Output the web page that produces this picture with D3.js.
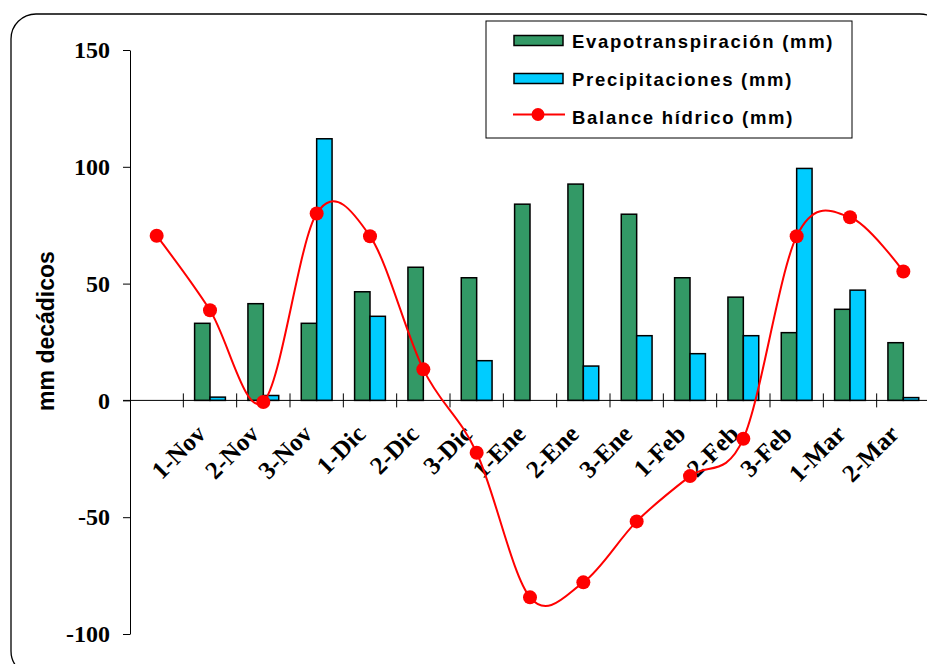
<!DOCTYPE html>
<html>
<head>
<meta charset="utf-8">
<script src="https://cdn.jsdelivr.net/npm/d3@7"></script>
<style>
  body { margin: 0; background: #fff; }
  svg { display: block; }
</style>
</head>
<body>
<svg id="chart" width="927" height="664"></svg>
<script>
// datos decádicos
const categorias = ["", "1-Nov", "2-Nov", "3-Nov", "1-Dic", "2-Dic", "3-Dic", "1-Ene", "2-Ene", "3-Ene", "1-Feb", "2-Feb", "3-Feb", "1-Mar", "2-Mar"];
const evapotranspiracion = [null, 33, 41.4, 33, 46.5, 57, 52.5, 84, 92.6, 79.7, 52.5, 44.2, 29, 39, 24.7];
const precipitaciones = [null, 1.4, 2.1, 112, 36, null, 17, null, 14.7, 27.7, 20, 27.7, 99.3, 47.2, 1.2];
const balance = [70.5, 38.6, -0.7, 80, 70.3, 13.3, -22.4, -84.3, -77.9, -51.8, -32.4, -16.4, 70.3, 78.4, 55.2];
const yTicks = [-100, -50, 0, 50, 100, 150];

const svg = d3.select("#chart");

// marco redondeado
svg.append("rect")
  .attr("x", 11).attr("y", 14)
  .attr("width", 934).attr("height", 662)
  .attr("rx", 25)
  .attr("fill", "none")
  .attr("stroke", "#000")
  .attr("stroke-width", 1.3);

const x = d3.scaleBand().domain(categorias).range([130, 930]);
const y = d3.scaleLinear().domain([-100, 150]).range([634, 50]);
const serie = d3.scaleBand().domain(["evap", "prec"])
  .range([x.bandwidth() / 2 - 15.4, x.bandwidth() / 2 + 15.4]);

// eje Y
const yAxis = svg.append("g")
  .attr("transform", "translate(130,0)")
  .call(d3.axisLeft(y).tickValues(yTicks).tickFormat(d => String(d))
    .tickSize(7).tickPadding(13).tickSizeOuter(0));
yAxis.select(".domain").attr("stroke", "#000");
yAxis.selectAll("text")
  .attr("font-family", "'Liberation Serif', 'Times New Roman', serif")
  .attr("font-weight", "bold")
  .attr("font-size", "24px")
  .attr("fill", "#000");

// título eje Y
svg.append("text")
  .attr("transform", "translate(54,331) rotate(-90)")
  .attr("text-anchor", "middle")
  .attr("font-family", "'Liberation Sans', Arial, sans-serif")
  .attr("font-weight", "bold")
  .attr("font-size", "23px")
  .text("mm decádicos");

// barras
const grupos = svg.append("g");
grupos.selectAll("rect.evap")
  .data(categorias.map((c, i) => ({ c, v: evapotranspiracion[i] })).filter(d => d.v != null))
  .enter().append("rect")
  .attr("class", "evap")
  .attr("x", d => x(d.c) + serie("evap"))
  .attr("width", serie.bandwidth())
  .attr("y", d => y(d.v))
  .attr("height", d => y(0) - y(d.v))
  .attr("fill", "#339966")
  .attr("stroke", "#000")
  .attr("stroke-width", 1.5);

grupos.selectAll("rect.prec")
  .data(categorias.map((c, i) => ({ c, v: precipitaciones[i] })).filter(d => d.v != null))
  .enter().append("rect")
  .attr("class", "prec")
  .attr("x", d => x(d.c) + serie("prec"))
  .attr("width", serie.bandwidth())
  .attr("y", d => y(d.v))
  .attr("height", d => y(0) - y(d.v))
  .attr("fill", "#00CCFF")
  .attr("stroke", "#000")
  .attr("stroke-width", 1.5);

// eje X (línea cero y marcas)
svg.append("line")
  .attr("x1", 123).attr("x2", 930)
  .attr("y1", y(0)).attr("y2", y(0))
  .attr("stroke", "#000");

svg.selectAll("line.marca")
  .data(categorias.slice(1))
  .enter().append("line")
  .attr("class", "marca")
  .attr("x1", d => x(d)).attr("x2", d => x(d))
  .attr("y1", y(0) - 7).attr("y2", y(0) + 7)
  .attr("stroke", "#000");

svg.selectAll("text.cat")
  .data(categorias)
  .enter().append("text")
  .attr("class", "cat")
  .attr("transform", d => `translate(${x(d) + x.bandwidth() / 2 - 3},${y(0) + 35}) rotate(-45)`)
  .attr("text-anchor", "end")
  .attr("font-family", "'Liberation Serif', 'Times New Roman', serif")
  .attr("font-weight", "bold")
  .attr("font-size", "25px")
  .text(d => d);

// balance hídrico (línea suavizada)
const puntos = categorias.map((c, i) => [x(c) + x.bandwidth() / 2, y(balance[i])]);
svg.append("path")
  .attr("d", d3.line().curve(d3.curveCatmullRom.alpha(0))(puntos))
  .attr("fill", "none")
  .attr("stroke", "#FF0000")
  .attr("stroke-width", 2);

svg.selectAll("circle.bal")
  .data(puntos)
  .enter().append("circle")
  .attr("class", "bal")
  .attr("cx", d => d[0]).attr("cy", d => d[1])
  .attr("r", 7)
  .attr("fill", "#FF0000");

// leyenda
const leyenda = svg.append("g");
leyenda.append("rect")
  .attr("x", 486).attr("y", 21)
  .attr("width", 366).attr("height", 117)
  .attr("fill", "#fff")
  .attr("stroke", "#000");

const items = [
  { nombre: "Evapotranspiración (mm)", tipo: "barra", color: "#339966" },
  { nombre: "Precipitaciones (mm)", tipo: "barra", color: "#00CCFF" },
  { nombre: "Balance hídrico (mm)", tipo: "linea", color: "#FF0000" }
];
items.forEach((it, i) => {
  const cy = 40.5 + i * 38;
  if (it.tipo === "barra") {
    leyenda.append("rect")
      .attr("x", 514).attr("y", cy - 5)
      .attr("width", 49).attr("height", 10)
      .attr("fill", it.color)
      .attr("stroke", "#000")
      .attr("stroke-width", 1.5);
  } else {
    leyenda.append("line")
      .attr("x1", 513).attr("x2", 565)
      .attr("y1", cy - 2).attr("y2", cy - 2)
      .attr("stroke", it.color).attr("stroke-width", 2);
    leyenda.append("circle")
      .attr("cx", 538).attr("cy", cy - 2).attr("r", 6.5)
      .attr("fill", it.color);
  }
  leyenda.append("text")
    .attr("x", 572).attr("y", cy + 7)
    .attr("font-family", "'Liberation Sans', Arial, sans-serif")
    .attr("font-weight", "bold")
    .attr("font-size", "18.5px")
    .attr("letter-spacing", "1.7px")
    .text(it.nombre);
});
</script>
</body>
</html>
